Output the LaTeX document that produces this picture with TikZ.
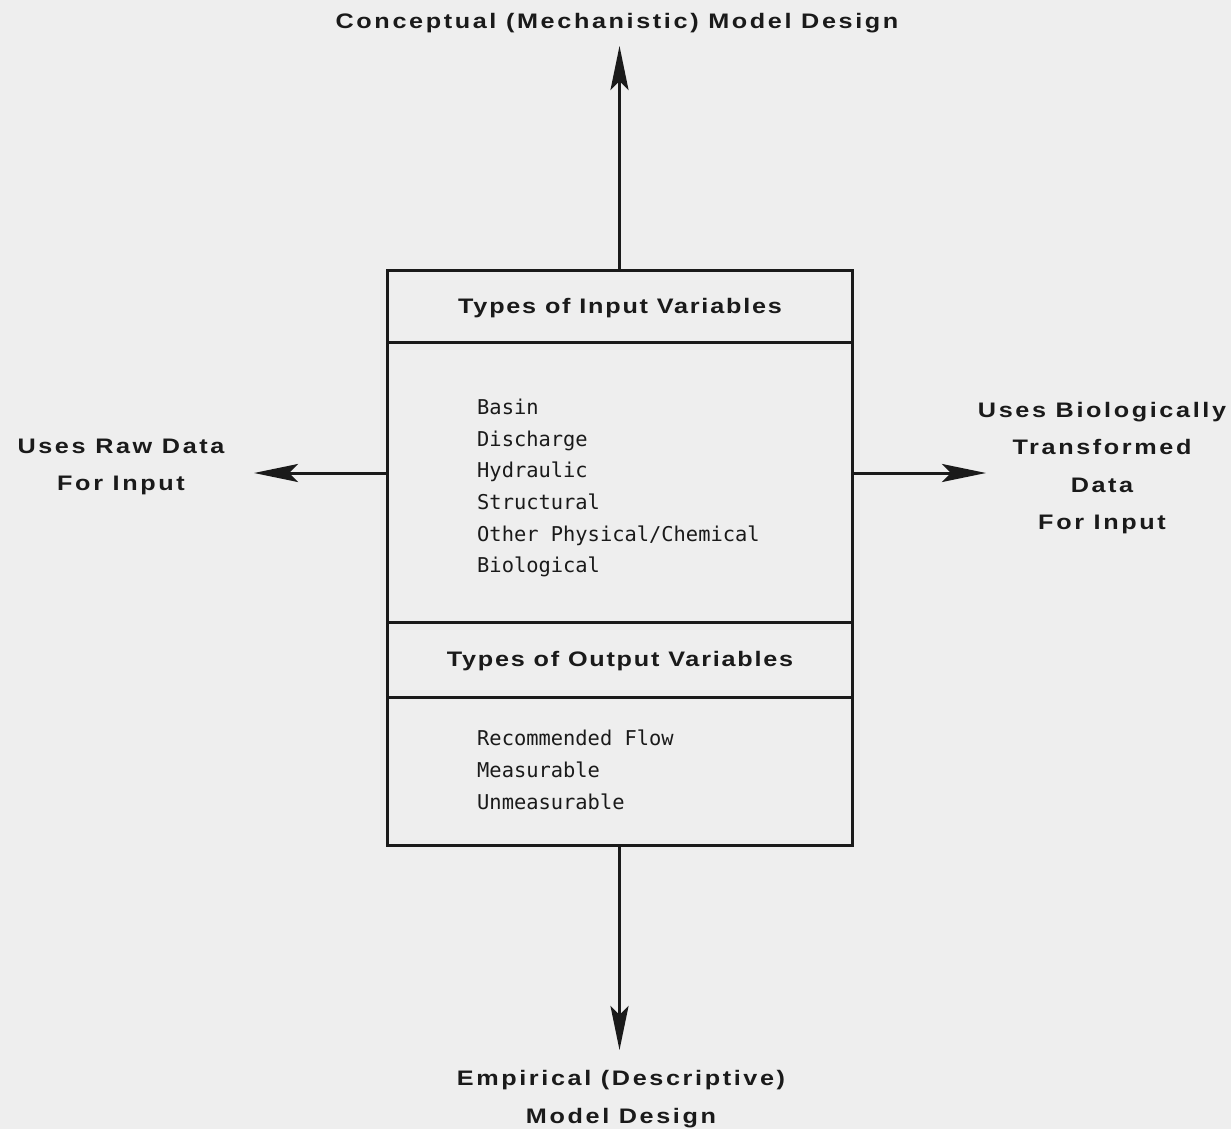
\documentclass[tikz,border=0pt]{standalone}
\usepackage{fontspec}
\setmainfont{Liberation Sans}
\newfontfamily\labfont{Liberation Sans}[FakeStretch=1.2, LetterSpace=12.5]
\newfontfamily\headfont{Liberation Sans}[FakeStretch=1.2, LetterSpace=8.5]
\newfontfamily\monofont{DejaVu Sans Mono}
\usetikzlibrary{arrows.meta}
\definecolor{paper}{HTML}{EEEEEE}
\definecolor{ink}{HTML}{1A1A1A}
\begin{document}
\begin{tikzpicture}[x=1pt,y=-1pt,
  sect/.style={draw=ink, line width=3pt, minimum width=465pt, inner sep=0pt, outer sep=0pt},
  lab/.style={font=\labfont\bfseries\fontsize{21}{37.3}\selectfont, text=ink, align=center, inner sep=0pt},
  heading/.style={font=\headfont\bfseries\fontsize{21}{25}\selectfont, text=ink, inner sep=0pt},
  items/.style={font=\monofont\fontsize{20.4}{31.6}\selectfont, text=ink, align=left, inner sep=0pt, anchor=north west},
  conn/.style={draw=ink, line width=3pt, -{Stealth[length=44pt, width=18pt, inset=9pt]}}]
\fill[paper] (0,0) rectangle (1231,1129);
\useasboundingbox (0,0) rectangle (1231,1129);
% box sections
\node[sect, minimum height=72pt] (h1) at (619.5,306) {};
\node[sect, minimum height=280pt] (l1) at (619.5,482) {};
\node[sect, minimum height=75pt] (h2) at (619.5,659.5) {};
\node[sect, minimum height=148pt] (l2) at (619.5,771) {};
\node[heading] (h1t) at (620,308) {Types of Input Variables};
\node[heading] (h2t) at (620,661) {Types of Output Variables};
\node[items] (l1t) at (477,399) {Basin\\Discharge\\Hydraulic\\Structural\\Other Physical/Chemical\\Biological};
\node[items] (l2t) at (477,730) {Recommended Flow\\Measurable\\Unmeasurable};
% end points of arrows
\coordinate (tt) at (619.5,46);
\coordinate (bt) at (619.5,1050);
\coordinate (lt) at (254,473);
\coordinate (rt) at (986,473);
\draw[conn] (h1.north) -- (tt);
\draw[conn] (l2.south) -- (bt);
\draw[conn] (l1.west |- lt) -- (lt);
\draw[conn] (l1.east |- rt) -- (rt);
% labels
\node[lab] (top) at (617,23) {Conceptual (Mechanistic) Model Design};
\node[lab] (left) at (121,467) {Uses Raw Data\\For Input};
\node[lab] (right) at (1102,468) {Uses Biologically\\Transformed\\Data\\For Input};
\node[lab] (bottom) at (621,1099) {Empirical (Descriptive)\\Model Design};
\end{tikzpicture}
\end{document}
